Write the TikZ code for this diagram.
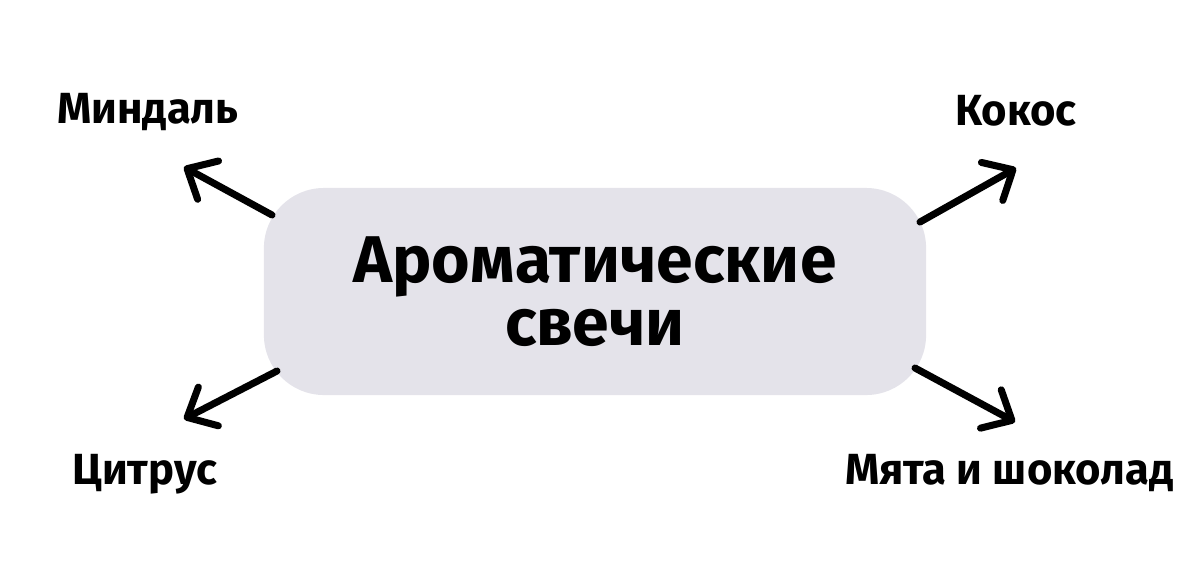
\documentclass[tikz,border=0pt]{standalone}
\usepackage{fontspec}
\setmainfont{Fira Sans}
\usetikzlibrary{arrows.meta}

\begin{document}
\begin{tikzpicture}[x=0.025cm, y=-0.025cm,
  topic/.style={rectangle, rounded corners=1.5cm, fill=boxgray,
    minimum width=16.55cm, minimum height=5.175cm, align=center,
    font=\fontsize{47}{47}\selectfont\bfseries},
  scent/.style={inner sep=0pt, font=\fontsize{31}{31}\selectfont\bfseries},
  branch/.style={line width=5pt, line cap=round,
    -{Straight Barb[length=17pt, width=31pt, line cap=round, line join=round]}}]

%─────────────
% Controls
%─────────────
\definecolor{boxgray}{HTML}{E4E3EA}  % light lilac grey of the centre box
\useasboundingbox (0,0) rectangle (1200,587);

%─────────────
% Centre box
%─────────────
\node[topic] (candles) at (595,291.5) {Ароматические\\[-2pt]свечи};

%─────────────
% Scents round it
%─────────────
\node[scent, anchor=base west] (almond) at (57,123) {Миндаль};
\node[scent, anchor=base west] (coconut) at (955,125) {Кокос};
\node[scent, anchor=base west] (citrus) at (72,484) {Цитрус};
\node[scent, anchor=base west] (mint) at (845,484) {Мята и шоколад};

% arrow ends (tails sit on the rounded border)
\coordinate (almond-tail) at (272,215);
\coordinate (almond-tip) at (184,167);
\coordinate (coconut-tail) at (920,222);
\coordinate (coconut-tip) at (1016,168);
\coordinate (citrus-tail) at (277,371);
\coordinate (citrus-tip) at (184,419);
\coordinate (mint-tail) at (915,368);
\coordinate (mint-tip) at (1015,422);

\foreach \s in {almond,coconut,citrus,mint}
  \draw[branch] (\s-tail) -- (\s-tip);

\end{tikzpicture}
\end{document}
